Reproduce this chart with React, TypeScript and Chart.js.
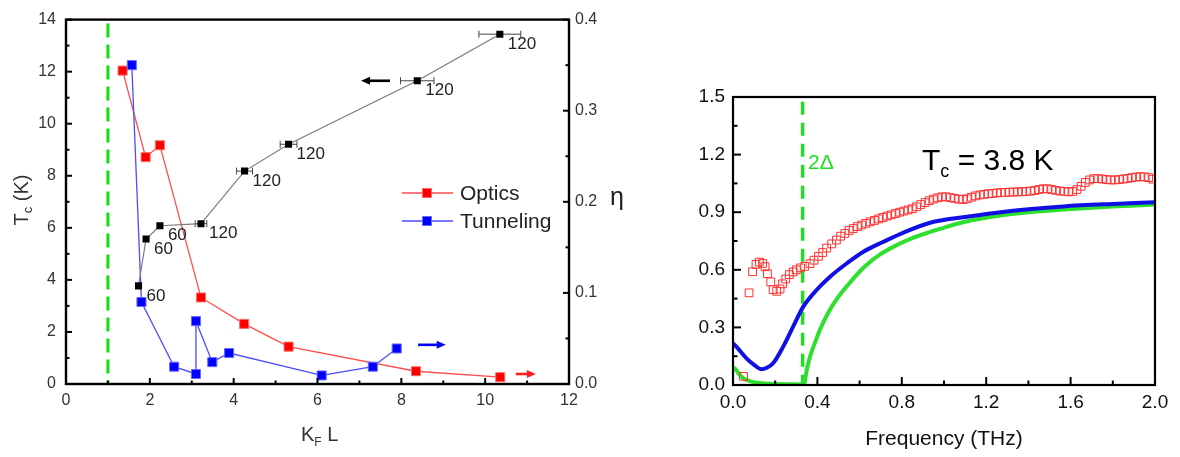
import React, { useEffect, useRef } from 'react';
import { Chart, registerables } from 'chart.js';

Chart.register(...registerables);

const FONT = "'Liberation Sans', Arial, Helvetica, sans-serif";

// ---------------- Left panel data ----------------
const opticsKfl = [1.35, 1.9, 2.24, 3.22, 4.25, 5.31, 8.35, 10.36];
const opticsEta = [0.344, 0.249, 0.262, 0.095, 0.066, 0.041, 0.014, 0.0075];

const tunnelKfl = [1.57, 1.8, 2.58, 3.1, 3.1, 3.49, 3.89, 6.1, 7.32, 7.89];
const tunnelEta = [0.35, 0.09, 0.019, 0.011, 0.069, 0.024, 0.034, 0.0094, 0.019, 0.039];

const tcKfl = [1.73, 1.91, 2.24, 3.22, 4.26, 5.31, 8.38, 10.35];
const tcKelvin = [3.77, 5.57, 6.08, 6.16, 8.18, 9.21, 11.65, 13.44];
const tcKflErr = [0, 0, 0, 0.14, 0.19, 0.2, 0.4, 0.5];
const tcThickness = ['60', '60', '60', '120', '120', '120', '120', '120'];

const ioffeRegelKfl = 1;

// arrows telling which axis a series belongs to
const arrowFromKfl = [7.73, 8.4, 10.73];
const arrowToKfl = [7.04, 9.06, 11.21];
const arrowLevel = [11.65, 0.043, 0.011];
const arrowAxis = ['y', 'y2', 'y2'];
const arrowColor = ['#000000', '#0000ff', '#ff2020'];

// ---------------- Right panel data ----------------
const measFreq = [
  0.05, 0.076, 0.093, 0.109, 0.125, 0.14, 0.152, 0.163, 0.179, 0.19, 0.207, 0.223, 0.235, 0.25,
  0.267, 0.285, 0.3, 0.32, 0.34, 0.365, 0.384, 0.405, 0.425, 0.444, 0.468, 0.49, 0.51, 0.53, 0.55,
  0.57, 0.59, 0.61, 0.63, 0.65, 0.67, 0.69, 0.71, 0.73, 0.75, 0.77, 0.79, 0.81, 0.83, 0.85, 0.87,
  0.89, 0.91, 0.93, 0.95, 0.97, 0.99, 1.01, 1.03, 1.05, 1.07, 1.09, 1.11, 1.13, 1.15, 1.17, 1.19,
  1.21, 1.23, 1.25, 1.27, 1.29, 1.31, 1.33, 1.35, 1.37, 1.39, 1.41, 1.43, 1.45, 1.47, 1.49, 1.51,
  1.53, 1.55, 1.57, 1.59, 1.61, 1.63, 1.65, 1.67, 1.69, 1.71, 1.73, 1.75, 1.77, 1.79, 1.81, 1.83,
  1.85, 1.87, 1.89, 1.91, 1.93, 1.95, 1.97, 1.99,
];
const measSigma = [
  0.045, 0.48, 0.59, 0.628, 0.64, 0.633, 0.616, 0.58, 0.537, 0.497, 0.488, 0.5, 0.527, 0.552,
  0.575, 0.589, 0.6, 0.61, 0.618, 0.632, 0.65, 0.67, 0.69, 0.713, 0.735, 0.755, 0.775, 0.79, 0.805,
  0.815, 0.825, 0.833, 0.842, 0.85, 0.857, 0.865, 0.872, 0.88, 0.886, 0.893, 0.9, 0.906, 0.912, 0.918, 0.928,
  0.94, 0.95, 0.96, 0.968, 0.975, 0.98, 0.98, 0.976, 0.972, 0.968, 0.966, 0.97, 0.978, 0.985, 0.99, 0.993,
  0.996, 0.998, 1.0, 1.002, 1.003, 1.004, 1.005, 1.006, 1.007, 1.008, 1.01, 1.013, 1.018, 1.022, 1.022, 1.018,
  1.014, 1.01, 1.008, 1.006, 1.008, 1.018, 1.035, 1.055, 1.068, 1.075, 1.075, 1.073, 1.07, 1.068, 1.068, 1.07,
  1.073, 1.076, 1.08, 1.083, 1.085, 1.084, 1.08, 1.072,
];

const tunnelFitFreq = [0, 0.02, 0.064, 0.1, 0.135, 0.16, 0.19, 0.238, 0.285, 0.333, 0.396, 0.46, 0.54, 0.618, 0.713, 0.8, 0.934, 1.1, 1.25, 1.4, 1.566, 1.8, 2.0];
const tunnelFitSigma = [0.217, 0.195, 0.139, 0.105, 0.082, 0.09, 0.113, 0.2, 0.304, 0.408, 0.495, 0.564, 0.634, 0.694, 0.746, 0.79, 0.845, 0.875, 0.897, 0.915, 0.93, 0.943, 0.952];

const bcsFitFreq = [0, 0.01, 0.03, 0.05, 0.08, 0.113, 0.15, 0.207, 0.26, 0.335, 0.35, 0.365, 0.39, 0.412, 0.46, 0.5, 0.54, 0.618, 0.697, 0.784, 0.85, 0.934, 0.98, 1.1, 1.25, 1.4, 1.566, 1.8, 2.0];
const bcsFitSigma = [0.09, 0.085, 0.055, 0.035, 0.02, 0.012, 0.008, 0.005, 0.004, 0.003, 0.08, 0.148, 0.225, 0.288, 0.393, 0.46, 0.515, 0.611, 0.68, 0.733, 0.765, 0.797, 0.813, 0.85, 0.88, 0.9, 0.914, 0.93, 0.94];

const gapFreq = 0.33;
const gapTop = 1.475;

// ---------------- helpers ----------------
const pts = (xs: number[], ys: number[]) => xs.map((x, i) => ({ x, y: ys[i] }));

type Part = { t: string; size: number; dy?: number };

function drawParts(ctx: CanvasRenderingContext2D, parts: Part[], x: number, y: number, align: 'left' | 'center', rot: number, color: string) {
  ctx.save();
  ctx.translate(x, y);
  ctx.rotate(rot);
  ctx.fillStyle = color;
  ctx.textBaseline = 'alphabetic';
  ctx.textAlign = 'left';
  const widths = parts.map((p) => {
    ctx.font = `${p.size}px ${FONT}`;
    return ctx.measureText(p.t).width;
  });
  const total = widths.reduce((a, b) => a + b, 0);
  let cx = align === 'center' ? -total / 2 : 0;
  parts.forEach((p, i) => {
    ctx.font = `${p.size}px ${FONT}`;
    ctx.fillText(p.t, cx, p.dy || 0);
    cx += widths[i];
  });
  ctx.restore();
}

function innerTicks(ctx: CanvasRenderingContext2D, chart: any, scaleId: string, side: 'bottom' | 'left' | 'right', min: number, max: number, minor: number, majorEvery: number, majLen: number, minLen: number, lw: number) {
  const sc = chart.scales[scaleId];
  const a = chart.chartArea;
  ctx.save();
  ctx.strokeStyle = '#000';
  ctx.lineWidth = lw;
  const n = Math.round((max - min) / minor);
  for (let i = 0; i <= n; i++) {
    const v = min + i * minor;
    const len = i % majorEvery === 0 ? majLen : minLen;
    const p = sc.getPixelForValue(v);
    ctx.beginPath();
    if (side === 'bottom') {
      ctx.moveTo(p, a.bottom);
      ctx.lineTo(p, a.bottom - len);
    } else if (side === 'left') {
      ctx.moveTo(a.left, p);
      ctx.lineTo(a.left + len, p);
    } else {
      ctx.moveTo(a.right, p);
      ctx.lineTo(a.right - len, p);
    }
    ctx.stroke();
  }
  ctx.restore();
}

// ---------------- plugins ----------------
const leftDeco = {
  id: 'leftDeco',
  beforeDatasetsDraw(chart: any) {
    const ctx = chart.ctx as CanvasRenderingContext2D;
    const xs = chart.scales.x;
    const ys = chart.scales.y;
    ctx.save();
    ctx.strokeStyle = '#444';
    ctx.lineWidth = 1;
    tcKfl.forEach((k, i) => {
      const e = tcKflErr[i];
      if (!e) return;
      const x1 = xs.getPixelForValue(k - e);
      const x2 = xs.getPixelForValue(k + e);
      const y = ys.getPixelForValue(tcKelvin[i]);
      ctx.beginPath();
      ctx.moveTo(x1, y);
      ctx.lineTo(x2, y);
      ctx.moveTo(x1, y - 3.5);
      ctx.lineTo(x1, y + 3.5);
      ctx.moveTo(x2, y - 3.5);
      ctx.lineTo(x2, y + 3.5);
      ctx.stroke();
    });
    ctx.restore();
  },
  afterDatasetsDraw(chart: any) {
    const ctx = chart.ctx as CanvasRenderingContext2D;
    const a = chart.chartArea;
    const xs = chart.scales.x;
    const ys = chart.scales.y;

    // frame
    ctx.save();
    ctx.strokeStyle = '#000';
    ctx.lineWidth = 2.4;
    ctx.strokeRect(a.left, a.top, a.right - a.left, a.bottom - a.top);
    ctx.restore();

    innerTicks(ctx, chart, 'x', 'bottom', 0, 12, 1, 2, 6, 3.5, 2);
    innerTicks(ctx, chart, 'y', 'left', 0, 14, 1, 2, 6, 3.5, 2);
    innerTicks(ctx, chart, 'y2', 'right', 0, 0.4, 0.05, 2, 6, 3.5, 2);

    // thickness labels
    ctx.save();
    ctx.fillStyle = '#222';
    ctx.font = `17px ${FONT}`;
    ctx.textAlign = 'left';
    ctx.textBaseline = 'middle';
    tcKfl.forEach((k, i) => {
      ctx.fillText(tcThickness[i], xs.getPixelForValue(k) + 8, ys.getPixelForValue(tcKelvin[i]) + 10);
    });
    ctx.restore();

    // arrows
    arrowFromKfl.forEach((f, i) => {
      const sc = chart.scales[arrowAxis[i]];
      const y = sc.getPixelForValue(arrowLevel[i]);
      const x1 = xs.getPixelForValue(f);
      const x2 = xs.getPixelForValue(arrowToKfl[i]);
      const dir = Math.sign(x2 - x1);
      ctx.save();
      ctx.strokeStyle = arrowColor[i];
      ctx.fillStyle = arrowColor[i];
      ctx.lineWidth = 2.6;
      ctx.beginPath();
      ctx.moveTo(x1, y);
      ctx.lineTo(x2 - dir * 7, y);
      ctx.stroke();
      ctx.beginPath();
      ctx.moveTo(x2, y);
      ctx.lineTo(x2 - dir * 9, y - 4);
      ctx.lineTo(x2 - dir * 9, y + 4);
      ctx.closePath();
      ctx.fill();
      ctx.restore();
    });

    // legend
    const legend = [
      { label: 'Optics', line: '#ff4d4d', fill: '#ff0000', edge: '#ff6a6a', y: 193 },
      { label: 'Tunneling', line: '#4d4dff', fill: '#0000ff', edge: '#6a6aff', y: 221 },
    ];
    legend.forEach((l) => {
      ctx.save();
      ctx.strokeStyle = l.line;
      ctx.lineWidth = 1.3;
      ctx.beginPath();
      ctx.moveTo(402, l.y);
      ctx.lineTo(453, l.y);
      ctx.stroke();
      ctx.fillStyle = l.fill;
      ctx.fillRect(422.5, l.y - 4.5, 9, 9);
      ctx.strokeStyle = l.edge;
      ctx.lineWidth = 1;
      ctx.strokeRect(422.5, l.y - 4.5, 9, 9);
      ctx.fillStyle = '#222';
      ctx.font = `21px ${FONT}`;
      ctx.textAlign = 'left';
      ctx.textBaseline = 'middle';
      ctx.fillText(l.label, 460, l.y + 1);
      ctx.restore();
    });

    // axis titles
    drawParts(ctx, [{ t: 'T', size: 20 }, { t: 'c', size: 13, dy: 4 }, { t: ' (K)', size: 20 }], 28, 200, 'center', -Math.PI / 2, '#333');
    drawParts(ctx, [{ t: 'K', size: 20 }, { t: 'F', size: 12, dy: 5 }, { t: ' L', size: 20 }], 301, 441, 'left', 0, '#333');
    drawParts(ctx, [{ t: 'η', size: 25 }], 610, 205, 'left', 0, '#222');
  },
};

const rightDeco = {
  id: 'rightDeco',
  afterDatasetsDraw(chart: any) {
    const ctx = chart.ctx as CanvasRenderingContext2D;
    const a = chart.chartArea;
    ctx.save();
    ctx.strokeStyle = '#000';
    ctx.lineWidth = 2.2;
    ctx.strokeRect(a.left, a.top, a.right - a.left, a.bottom - a.top);
    ctx.restore();

    innerTicks(ctx, chart, 'x', 'bottom', 0, 2, 0.2, 2, 8, 4.5, 2);
    innerTicks(ctx, chart, 'y', 'left', 0, 1.5, 0.15, 2, 8, 4.5, 2);

    drawParts(ctx, [{ t: '2Δ', size: 21 }], 168, 169, 'left', 0, '#22dd22');
    drawParts(ctx, [{ t: 'T', size: 30 }, { t: 'c', size: 18, dy: 7 }, { t: ' = 3.8 K', size: 30 }], 282, 170, 'left', 0, '#000');
    drawParts(ctx, [{ t: 'Frequency (THz)', size: 21 }], 304, 445, 'center', 0, '#111');
    drawParts(
      ctx,
      [
        { t: 'σ', size: 20 },
        { t: '1s', size: 12, dy: 6 },
        { t: ' / ', size: 20 },
        { t: 'σ', size: 20 },
        { t: '1n', size: 12, dy: 6 },
      ],
      684,
      224,
      'center',
      -Math.PI / 2,
      '#111',
    );
  },
};

function leftConfig(): any {
  const tickFont = { family: FONT, size: 16 };
  return {
    type: 'scatter',
    data: {
      datasets: [
        {
          label: 'Tc',
          data: pts(tcKfl, tcKelvin),
          yAxisID: 'y',
          showLine: true,
          borderColor: '#7a7a7a',
          borderWidth: 1.2,
          pointStyle: 'rect',
          pointRadius: 5,
          pointBackgroundColor: '#000',
          pointBorderColor: '#000',
          pointBorderWidth: 0,
        },
        {
          label: 'Tunneling',
          data: pts(tunnelKfl, tunnelEta),
          yAxisID: 'y2',
          showLine: true,
          borderColor: '#4d4dff',
          borderWidth: 1.3,
          pointStyle: 'rect',
          pointRadius: 6.4,
          pointBackgroundColor: '#0000ff',
          pointBorderColor: '#6a6aff',
          pointBorderWidth: 1,
        },
        {
          label: 'Optics',
          data: pts(opticsKfl, opticsEta),
          yAxisID: 'y2',
          showLine: true,
          borderColor: '#ff4d4d',
          borderWidth: 1.3,
          pointStyle: 'rect',
          pointRadius: 6.4,
          pointBackgroundColor: '#ff0000',
          pointBorderColor: '#ff6a6a',
          pointBorderWidth: 1,
        },
        {
          label: 'kFL=1',
          data: [
            { x: ioffeRegelKfl, y: 13.85 },
            { x: ioffeRegelKfl, y: 0 },
          ],
          yAxisID: 'y',
          showLine: true,
          borderColor: '#12dd12',
          borderWidth: 3,
          borderDash: [14, 7],
          pointRadius: 0,
        },
      ],
    },
    options: {
      responsive: false,
      animation: false,
      events: [],
      layout: { padding: { top: 14, left: 0, right: 0, bottom: 0 } },
      plugins: { legend: { display: false }, tooltip: { enabled: false } },
      scales: {
        x: {
          type: 'linear',
          min: 0,
          max: 12,
          ticks: { stepSize: 2, padding: 7, color: '#333', font: tickFont },
          grid: { display: false, drawTicks: false },
          border: { display: false },
          afterFit: (s: any) => {
            s.height = 73;
          },
        },
        y: {
          type: 'linear',
          position: 'left',
          min: 0,
          max: 14,
          ticks: { stepSize: 2, padding: 10, color: '#333', font: tickFont },
          grid: { display: false, drawTicks: false },
          border: { display: false },
          afterFit: (s: any) => {
            s.width = 66;
          },
        },
        y2: {
          type: 'linear',
          position: 'right',
          min: 0,
          max: 0.4,
          ticks: { stepSize: 0.1, padding: 6, color: '#333', font: tickFont, callback: (v: any) => Number(v).toFixed(1) },
          grid: { display: false, drawTicks: false },
          border: { display: false },
          afterFit: (s: any) => {
            s.width = 71;
          },
        },
      },
    },
    plugins: [leftDeco],
  };
}

function rightConfig(): any {
  const tickFont = { family: FONT, size: 19 };
  return {
    type: 'scatter',
    data: {
      datasets: [
        {
          label: 'measured',
          data: pts(measFreq, measSigma),
          showLine: false,
          pointStyle: 'rect',
          pointRadius: 5.5,
          pointBackgroundColor: 'rgba(255,255,255,0)',
          pointBorderColor: '#ff3030',
          pointBorderWidth: 1,
        },
        {
          label: 'tunneling fit',
          data: pts(tunnelFitFreq, tunnelFitSigma),
          showLine: true,
          borderColor: '#1010e6',
          borderWidth: 4,
          pointRadius: 0,
          cubicInterpolationMode: 'monotone',
        },
        {
          label: 'bcs fit',
          data: pts(bcsFitFreq, bcsFitSigma),
          showLine: true,
          borderColor: '#2ee02e',
          borderWidth: 4,
          pointRadius: 0,
          cubicInterpolationMode: 'monotone',
        },
        {
          label: '2Delta',
          data: [
            { x: gapFreq, y: gapTop },
            { x: gapFreq, y: 0 },
          ],
          showLine: true,
          borderColor: '#22dd22',
          borderWidth: 3.5,
          borderDash: [13, 8],
          pointRadius: 0,
        },
      ],
    },
    options: {
      responsive: false,
      animation: false,
      events: [],
      layout: { padding: { top: 97, left: 0, right: 25, bottom: 0 } },
      plugins: { legend: { display: false }, tooltip: { enabled: false } },
      scales: {
        x: {
          type: 'linear',
          min: 0,
          max: 2,
          ticks: { stepSize: 0.4, padding: 6, color: '#111', font: tickFont, callback: (v: any) => Number(v).toFixed(1) },
          grid: { display: false, drawTicks: false },
          border: { display: false },
          afterFit: (s: any) => {
            s.height = 72;
          },
        },
        y: {
          type: 'linear',
          min: 0,
          max: 1.5,
          ticks: { stepSize: 0.3, padding: 8, color: '#111', font: tickFont, callback: (v: any) => Number(v).toFixed(1) },
          grid: { display: false, drawTicks: false },
          border: { display: false },
          afterFit: (s: any) => {
            s.width = 93;
          },
        },
      },
    },
    plugins: [rightDeco],
  };
}

export default function App() {
  const leftRef = useRef<HTMLCanvasElement>(null);
  const rightRef = useRef<HTMLCanvasElement>(null);
  useEffect(() => {
    document.body.style.margin = '0';
    const c1 = new Chart(leftRef.current as HTMLCanvasElement, leftConfig());
    const c2 = new Chart(rightRef.current as HTMLCanvasElement, rightConfig());
    return () => {
      c1.destroy();
      c2.destroy();
    };
  }, []);
  return (
    <div style={{ position: 'relative', width: 1180, height: 457, background: '#fff', overflow: 'hidden' }}>
      <canvas ref={leftRef} width={640} height={457} style={{ position: 'absolute', left: 0, top: 0 }} />
      <canvas ref={rightRef} width={540} height={457} style={{ position: 'absolute', left: 640, top: 0 }} />
    </div>
  );
}
